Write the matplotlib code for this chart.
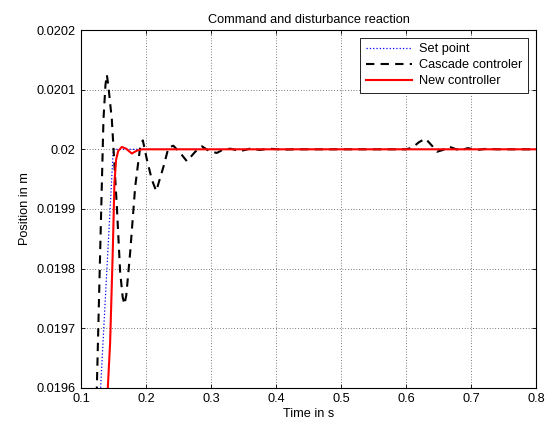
import numpy as np
import matplotlib
matplotlib.use("Agg")
from matplotlib import pyplot as plt

plt.rcParams['font.family'] = ['Liberation Sans', 'DejaVu Sans']
plt.rcParams['font.size'] = 9.2

# set point (steep ramp, then constant)
t_set = [0.120, 0.130, 0.1495, 0.80]
y_set = [0.01950, 0.01960, 0.02000, 0.02000]

# cascade controller response
t_casc = [0.120, 0.1242, 0.1293, 0.1344, 0.1375, 0.1396, 0.1418, 0.1473, 0.155,
          0.1601, 0.164, 0.1667, 0.1695, 0.1755, 0.1832, 0.1909, 0.195, 0.2012,
          0.2089, 0.2156, 0.2268, 0.2345, 0.242, 0.2525, 0.2628, 0.2757, 0.286,
          0.2988, 0.309, 0.3193, 0.33, 0.345, 0.36, 0.375, 0.39, 0.41, 0.43,
          0.60, 0.61, 0.62, 0.63, 0.64, 0.648, 0.657, 0.665, 0.675, 0.683,
          0.695, 0.71, 0.725, 0.74, 0.80]
y_casc = [0.01950, 0.01960, 0.019827, 0.02005, 0.020108, 0.020125, 0.020108,
          0.02005, 0.019904, 0.019794, 0.019752, 0.01974, 0.019755, 0.019827,
          0.019937, 0.020004, 0.020015, 0.019983, 0.019949, 0.01993, 0.019971,
          0.020003, 0.020006, 0.019994, 0.01998, 0.019996, 0.020005, 0.019996,
          0.019994, 0.02, 0.020001, 0.019997, 0.020001, 0.019999, 0.020001,
          0.0199995, 0.02, 0.02, 0.020003, 0.020012, 0.020018, 0.020006,
          0.019996, 0.019999, 0.020005, 0.020001, 0.019998, 0.020002, 0.019999,
          0.020001, 0.02, 0.02]

# new controller response
t_new = [0.138, 0.1411, 0.1447, 0.1488, 0.1513, 0.1539, 0.157, 0.1627, 0.1693,
         0.178, 0.1863, 0.194, 0.80]
y_new = [0.01950, 0.01960, 0.019677, 0.019832, 0.019944, 0.019983, 0.019997,
         0.020004, 0.020001, 0.019993, 0.019998, 0.02, 0.02]

fig = plt.figure(figsize=(5.48, 4.23), dpi=100)
ax = fig.add_axes([0.148, 0.083, 0.830, 0.846])

ax.plot(t_set, y_set, color='blue', linestyle=':', linewidth=0.9, label='Set point')
ax.plot(t_casc, y_casc, color='black', linestyle=(0, (4, 3)), linewidth=1.5,
        label='Cascade controler')
ax.plot(t_new, y_new, color='red', linestyle='-', linewidth=1.5, label='New controller')

ax.set_xlim(0.1, 0.8)
ax.set_ylim(0.0196, 0.0202)
ax.set_xticks(np.arange(0.1, 0.81, 0.1))
ax.set_xticklabels(['0.1', '0.2', '0.3', '0.4', '0.5', '0.6', '0.7', '0.8'])
ax.set_yticks([0.0196, 0.0197, 0.0198, 0.0199, 0.02, 0.0201, 0.0202])
ax.set_yticklabels(['0.0196', '0.0197', '0.0198', '0.0199', '0.02', '0.0201', '0.0202'])
ax.tick_params(direction='in', top=True, right=True, length=3, width=0.6,
               labelsize=9.2, pad=4)
ax.grid(True, color='black', linestyle=(0, (1, 3)), linewidth=0.5)
for s in ax.spines.values():
    s.set_linewidth(0.8)

ax.set_xlabel('Time in s', labelpad=2)
ax.set_ylabel('Position in m', labelpad=4)
ax.set_title('Command and disturbance reaction', fontsize=9.2, pad=5)

leg = ax.legend(loc='upper right', fancybox=False, edgecolor='black', framealpha=1,
                handlelength=3.6, handletextpad=0.6, borderaxespad=0.6,
                borderpad=0.45, fontsize=9.2, labelspacing=0.3)
leg.get_frame().set_linewidth(0.6)

fig.savefig('out.png', dpi=100)
